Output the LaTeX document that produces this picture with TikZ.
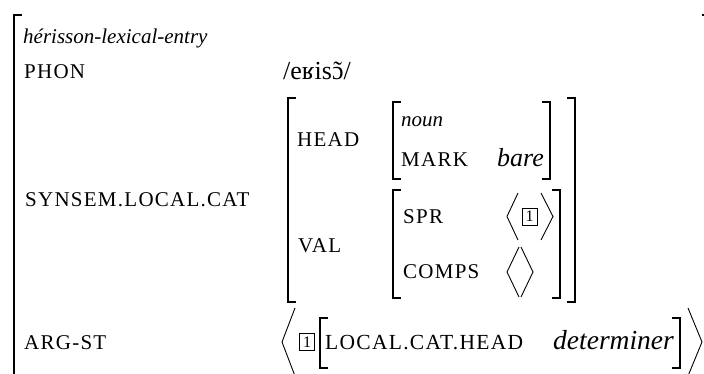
\documentclass[tikz,border=0pt]{standalone}
\usepackage{fontspec}
\setmainfont{Liberation Serif}
\newfontfamily\capsf[LetterSpace=6]{Liberation Serif}
\tikzset{
  attr/.style={anchor=base west, inner sep=0pt, font=\fontsize{21}{21}\selectfont\capsf},
  typ/.style={anchor=base west, inner sep=0pt, font=\fontsize{21}{21}\selectfont\itshape},
  valit/.style={anchor=base west, inner sep=0pt, font=\fontsize{26}{26}\selectfont\itshape},
  valrm/.style={anchor=base west, inner sep=0pt, font=\fontsize{26}{26}\selectfont},
  brk/.style={line width=1.4pt},
  ang/.style={line width=0.9pt},
  tagbox/.style={draw, line width=0.8pt, minimum width=15pt, minimum height=17pt, inner sep=0pt, font=\fontsize{16}{16}\selectfont}
}
\newcommand\myLB[3]{\draw[brk] ({#1+8},#2) -- (#1,#2) -- (#1,#3) -- ({#1+8},#3);}
\newcommand\myRB[3]{\draw[brk] ({#1-8},#2) -- (#1,#2) -- (#1,#3) -- ({#1-8},#3);}
\newcommand\myLA[4]{\draw[ang] (#2,#3) -- (#1,{(#3+#4)/2}) -- (#2,#4);}
\newcommand\myRA[4]{\draw[ang] (#1,#3) -- (#2,{(#3+#4)/2}) -- (#1,#4);}
\newcommand\nasalo{\ooalign{ɔ\cr\hidewidth\char"02DC\hidewidth\cr}}
\begin{document}
\begin{tikzpicture}[x=1pt,y=-1pt]
\useasboundingbox (0,0) rectangle (704,374);
\clip (0,0) rectangle (704,374);
% outer matrix
\myLB{14}{15}{400}
\draw[brk] (702,15) -- (704,15);
\node[typ] (type) at (23,44) {hérisson-lexical-entry};
\node[attr] (phon) at (24,79) {PHON};
\node[valrm] (phonv) at (283,80) {/eʁis\nasalo/};
\node[attr] (synsem) at (25,207) {SYNSEM.LOCAL.CAT};
% synsem matrix
\myLB{288}{98}{302}
\myRB{575}{98}{302}
\node[attr] (head) at (297,147) {HEAD};
\myLB{393}{102}{179}
\myRB{550}{102}{179}
\node[typ] (noun) at (401,127) {noun};
\node[attr] (mark) at (401,167) {MARK};
\node[valit] (bare) at (497,167) {bare};
\node[attr] (val) at (298,252) {VAL};
\myLB{393}{190}{298}
\myRB{560}{190}{298}
\node[attr] (spr) at (403,223) {SPR};
\myLA{507}{518}{193}{240}
\node[tagbox] (tag1) at (529.5,216.5) {1};
\myRA{541}{553}{193}{240}
\node[attr] (comps) at (403,278) {COMPS};
\myLA{507}{519}{247}{297}
\myRA{521}{533}{247}{297}
% arg-st
\node[attr] (argst) at (24,349) {ARG-ST};
\myLA{282}{295}{308}{376}
\node[tagbox] (tag2) at (307,342) {1};
\myLB{320}{318}{368}
\node[attr, font=\fontsize{21.5}{21.5}\selectfont\capsf] (lch) at (325,349) {LOCAL.CAT.HEAD};
\node[valit, font=\fontsize{27.5}{27.5}\selectfont\itshape] (det) at (553,349) {determiner};
\myRB{680}{318}{368}
\myRA{688}{702}{308}{376}
\end{tikzpicture}
\end{document}
